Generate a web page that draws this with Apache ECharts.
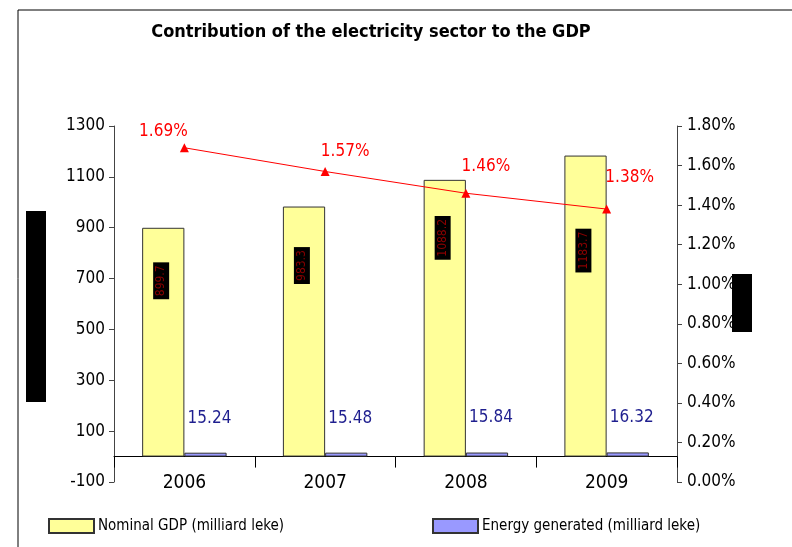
<!DOCTYPE html>
<html>
<head>
<meta charset="utf-8">
<script src="https://cdn.jsdelivr.net/npm/echarts@6/dist/echarts.min.js"></script>
<style>
html,body{margin:0;padding:0;background:#fff;}
#chart{width:792px;height:547px;}
</style>
</head>
<body>
<div id="chart"></div>
<script>
var years = ['2006', '2007', '2008', '2009'];
var nominalGDP = [899.7, 983.3, 1088.2, 1183.7];
var energyGenerated = [15.24, 15.48, 15.84, 16.32];
var electricityShare = [1.69, 1.57, 1.46, 1.38];
var leftTicks = { min: -100, max: 1300, interval: 200 };
var rightTicks = { min: 0, max: 1.8, interval: 0.2 };

var FONT = '"Liberation Sans Narrow", "Arial Narrow", "DejaVu Sans Condensed", "Liberation Sans", sans-serif';
var gdpLabelDepth = [53, 59, 58, 95];
var shareLabelOffset = [[-21, 2], [20, -2], [20, -9], [23, -13]];

var chart = echarts.init(document.getElementById('chart'));
chart.setOption({
  backgroundColor: '#fff',
  animation: false,
  title: {
    text: 'Contribution of the electricity sector to the GDP',
    left: 366, top: 18, textAlign: 'center',
    textStyle: { fontFamily: FONT, fontSize: 18, fontWeight: 'bold', color: '#000' }
  },
  legend: [
    { left: 48, top: 518, padding: 0, itemWidth: 45, itemHeight: 14, itemGap: 4, icon: 'rect',
      data: ['Nominal GDP (milliard leke)'],
      textStyle: { fontFamily: FONT, fontSize: 15, color: '#000', padding: [0, 0, 0, -1] } },
    { left: 432, top: 518, padding: 0, itemWidth: 45, itemHeight: 14, itemGap: 4, icon: 'rect',
      data: ['Energy generated (milliard leke)'],
      textStyle: { fontFamily: FONT, fontSize: 15, color: '#000', padding: [0, 0, 0, -1] } }
  ],
  grid: { left: 114, right: 115, top: 126, bottom: 65 },
  xAxis: {
    type: 'category', data: years,
    axisLine: { onZero: true, lineStyle: { color: '#000', width: 1 } },
    axisTick: { show: true, length: 11, lineStyle: { color: '#000' } },
    axisLabel: { fontFamily: FONT, fontSize: 19, color: '#000', margin: -8 }
  },
  yAxis: [
    { type: 'value', min: leftTicks.min, max: leftTicks.max, interval: leftTicks.interval,
      splitLine: { show: false },
      axisLine: { show: true, onZero: false, lineStyle: { color: '#444' } },
      axisTick: { show: true, length: 5, lineStyle: { color: '#444' } },
      axisLabel: { fontFamily: FONT, fontSize: 17, color: '#000', margin: 9,
        formatter: function (v) { return String(v); } } },
    { type: 'value', min: rightTicks.min, max: rightTicks.max, interval: rightTicks.interval,
      position: 'right',
      splitLine: { show: false },
      axisLine: { show: true, onZero: false, lineStyle: { color: '#444' } },
      axisTick: { show: true, length: 5, lineStyle: { color: '#444' } },
      axisLabel: { fontFamily: FONT, fontSize: 17, color: '#000', margin: 10,
        formatter: function (v) { return v.toFixed(2) + '%'; } } }
  ],
  series: [
    { name: 'Nominal GDP (milliard leke)', type: 'bar', barWidth: '30%', barGap: '0%',
      itemStyle: { color: '#FFFF99', borderColor: '#333', borderWidth: 1 },
      data: nominalGDP.map(function (v, i) {
        return { value: v, label: { position: ['45%', gdpLabelDepth[i]] } };
      }),
      label: { show: true, rotate: 90, align: 'center', verticalAlign: 'middle',
        backgroundColor: '#000', color: '#8B0000', fontFamily: FONT, fontSize: 12,
        padding: [2, 3, 2, 3], formatter: function (p) { return p.value.toFixed(1); } } },
    { name: 'Energy generated (milliard leke)', type: 'bar', barWidth: '30%', barGap: '0%',
      itemStyle: { color: '#9999FF', borderColor: '#333', borderWidth: 1 },
      data: energyGenerated,
      label: { show: true, position: 'top', distance: 26, offset: [4, 0],
        color: '#1F1F8F', fontFamily: FONT, fontSize: 17,
        formatter: function (p) { return p.value.toFixed(2); } } },
    { name: 'share', type: 'line', yAxisIndex: 1,
      symbol: 'triangle', symbolSize: 9,
      lineStyle: { color: '#FF0000', width: 1 },
      itemStyle: { color: '#FF0000' },
      data: electricityShare.map(function (v, i) {
        return { value: v, label: { offset: shareLabelOffset[i] } };
      }),
      label: { show: true, position: 'top', color: '#FF0000', fontFamily: FONT, fontSize: 17,
        formatter: function (p) { return p.value.toFixed(2) + '%'; } } }
  ],
  graphic: [
    { type: 'line', shape: { x1: 18, y1: 10, x2: 792, y2: 10 }, style: { stroke: '#000', lineWidth: 1 } },
    { type: 'line', shape: { x1: 18, y1: 10, x2: 18, y2: 547 }, style: { stroke: '#000', lineWidth: 1 } },
    { type: 'rect', shape: { x: 26, y: 211, width: 20, height: 191 }, style: { fill: '#000' } },
    { type: 'rect', shape: { x: 732, y: 274, width: 20, height: 58 }, style: { fill: '#000' } }
  ]
});
</script>
</body>
</html>
